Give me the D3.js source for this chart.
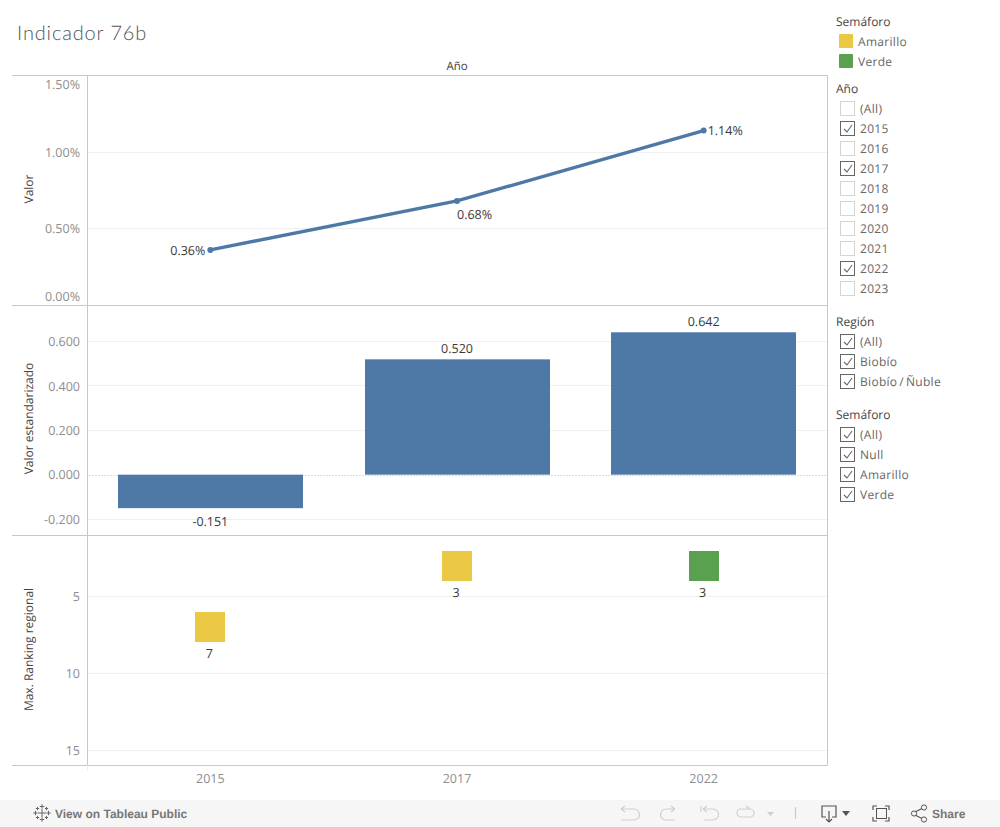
<!DOCTYPE html>
<html><head><meta charset="utf-8">
<script src="https://cdn.jsdelivr.net/npm/d3@7"></script>
<style>
html,body{margin:0;padding:0;background:#fff;overflow:hidden}
text{font-family:"Open Sans","Noto Sans",sans-serif;font-size:11px;text-rendering:geometricPrecision}
</style></head><body><svg id="c" width="1000" height="827" style="display:block"></svg>
<script>
const years=["2015","2017","2022"];
const valor=[0.36,0.68,1.14];
const estandarizado=[-0.151,0.520,0.642];
const ranking=[7,3,3];
const semaforo=["Amarillo","Amarillo","Verde"];
const valorTicks=[0,0.5,1,1.5];
const estTicks=[-0.2,0,0.2,0.4,0.6];
const rankTicks=[5,10,15];
const legendItems=["Amarillo","Verde"];
const yearFilter=["(All)","2015","2016","2017","2018","2019","2020","2021","2022","2023"];
const yearChecked=["2015","2017","2022"];
const regionFilter=["(All)","Biobío","Biobío / Ñuble"];
const semFilter=["(All)","Null","Amarillo","Verde"];
const colors={Amarillo:"#ebc843",Verde:"#59a14f"};
const blue="#4e79a7", border="#c8c8c8", grid="#efefef", tickC="#8e8e8e", dark="#333";

const svg=d3.select("#c");
const L=87.5,R=827.5,T1=75.5,B1=305.5,B2=535.5,B3=765.5;
const x=d3.scaleBand().domain(years).range([L,R]).paddingInner(0.25).paddingOuter(0.125);
const mid=d=>x(d)+x.bandwidth()/2;
const cx=d=>mid(d)-0.5;
const y1=d3.scaleLinear().domain([0,1.5]).range([B1-0.5,T1]);
const y2=d3.scaleLinear().domain([-0.272,0.765]).range([B2-0.5,B1-0.5]);
const y3=d3.scaleLinear().domain([1.07,16]).range([B2+0.5,B3+0.5]);

function text(s,px,py,o={}){
  return svg.append("text").text(s).attr("x",px).attr("y",py)
   .attr("text-anchor",o.a||"start").attr("fill",o.c||dark)
   .style("font-size",(o.s||11)+"px").style("font-weight",o.w||400)
   .style("font-family",o.f||null).attr("transform",o.t||null);
}
function hline(g,y,c,xa=L,xb=R,dash){g.append("line").attr("x1",xa).attr("x2",xb).attr("y1",y).attr("y2",y).attr("stroke",c).attr("stroke-dasharray",dash||null);}

text("Indicador 76b",17,40,{s:20,c:"#555",f:"Lato",w:300}).style("letter-spacing","0.85px");
text("Año",457,70,{a:"middle",c:"#444",s:11.5});

// gridlines
const gridG=svg.append("g");
valorTicks.slice(1,3).forEach(v=>hline(gridG,Math.floor(y1(v))+0.5,grid));
estTicks.filter(v=>v!==0).forEach(v=>hline(gridG,Math.floor(y2(v))+0.5,grid));
rankTicks.forEach(v=>hline(gridG,Math.floor(y3(v))+0.5,grid));
hline(gridG,Math.round(y2(0))+0.5,"#bbb",L+2,R,"1,2");

// bars
svg.selectAll(".bar").data(years).join("rect").attr("class","bar")
 .attr("x",d=>Math.floor(x(d))).attr("width",Math.round(x.bandwidth()))
 .attr("y",(d,i)=>y2(Math.max(0,estandarizado[i])))
 .attr("height",(d,i)=>Math.abs(y2(estandarizado[i])-y2(0))).attr("fill",blue);
years.forEach((d,i)=>{const v=estandarizado[i];
 text(v.toFixed(3),cx(d),v<0?y2(v)+18:y2(v)-6,{a:"middle",s:12.5,c:"#3a3a3a"});});

// line
const line=d3.line().x((d,i)=>cx(years[i])).y(d=>y1(d));
svg.append("path").attr("d",line(valor)).attr("fill","none").attr("stroke",blue).attr("stroke-width",3.4);
svg.selectAll(".pt").data(years).join("circle").attr("class","pt")
 .attr("cx",d=>cx(d)).attr("cy",(d,i)=>y1(valor[i])).attr("r",3).attr("fill",blue);
const fmtP=v=>v.toFixed(2)+"%";
text(fmtP(valor[0]),cx(years[0])-5,y1(valor[0])+5,{a:"end",s:12.5,c:"#3a3a3a"});
text(fmtP(valor[1]),cx(years[1]),y1(valor[1])+18,{s:12.5,c:"#3a3a3a"});
text(fmtP(valor[2]),cx(years[2])+4,y1(valor[2])+4,{s:12.5,c:"#3a3a3a"});

// squares
svg.selectAll(".sq").data(years).join("rect").attr("class","sq")
 .attr("x",d=>Math.floor(mid(d)-15)).attr("width",30).attr("height",30)
 .attr("y",(d,i)=>Math.round(y3(ranking[i])-15)).attr("fill",(d,i)=>colors[semaforo[i]]);
years.forEach((d,i)=>text(String(ranking[i]),cx(d)-1,y3(ranking[i])+31,{a:"middle",s:12.5,c:"#3a3a3a"}));

// frame
[T1,B1,B2,B3].forEach(y=>hline(svg,y,border,12,R));
svg.append("line").attr("x1",L).attr("x2",L).attr("y1",T1).attr("y2",B3).attr("stroke",border);
svg.append("line").attr("x1",L).attr("x2",L).attr("y1",B3).attr("y2",B3+5).attr("stroke","#eee");
svg.append("line").attr("x1",R).attr("x2",R).attr("y1",T1).attr("y2",B3).attr("stroke",border);

// ticks
valorTicks.forEach(v=>{const yy=v===1.5?89:v===0?301:y1(v)+(v===0.5?4:5);text(fmtP(v),80,yy,{a:"end",c:tickC,s:12.5});});
estTicks.forEach(v=>text(v.toFixed(3),80,y2(v)+(v===0||v===0.6?4:5),{a:"end",c:tickC,s:12.5}));
rankTicks.forEach(v=>text(String(v),80,y3(v)+4,{a:"end",c:tickC,s:12.5}));
years.forEach(d=>text(d,cx(d),783,{a:"middle",c:tickC,s:12.5}));

const rot=(s,xx,yy)=>text(s,xx,yy,{a:"middle",c:"#444",s:12,t:`rotate(-90 ${xx} ${yy})`});
rot("Valor",33,189);rot("Valor estandarizado",33,418.5);rot("Max. Ranking regional",33,649.5);

// sidebar
const head=(s,y)=>text(s,836,y,{c:"#444",s:12});
function check(xb,yb,on){
  svg.append("rect").attr("x",xb+.5).attr("y",yb+.5).attr("width",14).attr("height",14)
   .attr("fill","#fff").attr("stroke",on?"#666":"#d4d4d4");
  if(on) svg.append("path").attr("d",`M${xb+4} ${yb+8}l3 3l5 -7`).attr("fill","none").attr("stroke","#666").attr("stroke-width",1.1);
}
function filter(title,yTitle,yFirst,items,isOn){
  head(title,yTitle);
  items.forEach((t,i)=>{const yb=yFirst+i*20;check(840,yb,isOn(t));
   text(t,860,yb+12,{c:"#666",s:12}).style("letter-spacing","0.3px").style("word-spacing","-1.5px");});
}
head("Semáforo",26);
legendItems.forEach((t,i)=>{
  svg.append("rect").attr("x",839).attr("y",34+i*20).attr("width",14).attr("height",14).attr("rx",1).attr("fill",colors[t]);
  text(t,858,46+i*20,{c:"#666",s:12}).style("letter-spacing","0.3px");
});
filter("Año",93,101,yearFilter,t=>yearChecked.includes(t));
filter("Región",326,334,regionFilter,()=>true);
filter("Semáforo",419,427,semFilter,()=>true);

// toolbar
svg.append("rect").attr("x",0).attr("y",800).attr("width",1000).attr("height",27).attr("fill","#f6f6f6");
const tb={f:"Liberation Sans",c:"#777",s:12,w:700};
text("View on Tableau Public",55,818,tb);
text("Share",932,818,tb);
const ic=(d,c,w)=>svg.append("path").attr("d",d).attr("fill","none").attr("stroke",c).attr("stroke-width",w||1.2);
const lg=svg.append("g").attr("transform","translate(42,813)");
[[0,0,4],[0,-6.5,2.2],[0,6.5,2.2],[-6.5,0,2.2],[6.5,0,2.2],[-4.5,-4.5,1.6],[4.5,-4.5,1.6],[-4.5,4.5,1.6],[4.5,4.5,1.6]].forEach(a=>{
  lg.append("path").attr("d",`M${a[0]-a[2]} ${a[1]}H${a[0]+a[2]}M${a[0]} ${a[1]-a[2]}V${a[1]+a[2]}`).attr("stroke","#666").attr("stroke-width",1).attr("fill","none");
});
const dim="#cfcfcf";
ic("M621 809h13a5.5 5.5 0 0 1 0 11h-13M621 809l4 -3M621 809l4 3",dim);
ic("M675 809h-9a5.5 5.5 0 0 0 0 11h9M675 809l-4 -3M675 809l-4 3",dim);
ic("M701 806v6M703 809h10a5.5 5.5 0 0 1 0 11h-9M703 809l4 -3M703 809l4 3",dim);
ic("M750 809h-9a4 4 0 0 0 0 8h9a4 4 0 0 0 0 -8M750 809l-4 -3",dim);
svg.append("path").attr("d","M767 812h7l-3.5 4z").attr("fill",dim);
ic("M795.5 807v12","#ccc");
ic("M826 817h-4v-11h14v11h-4","#555");
ic("M829 811v11M826 819l3 3l3 -3","#555");
svg.append("path").attr("d","M842 811h8l-4 5z").attr("fill","#555");
ic("M873 810v-4h4M885 806h4v4M889 817v4h-4M877 821h-4v-4","#555");
svg.append("rect").attr("x",876.5).attr("y",808.5).attr("width",10).attr("height",10).attr("fill","none").attr("stroke","#555");
ic("M915 812l8 -4M915 815l8 4","#555");
[[914,813.5],[924,807.5],[924,819.5]].forEach(p=>svg.append("circle").attr("cx",p[0]).attr("cy",p[1]).attr("r",2.6).attr("fill","#f6f6f6").attr("stroke","#555"));
</script></body></html>
